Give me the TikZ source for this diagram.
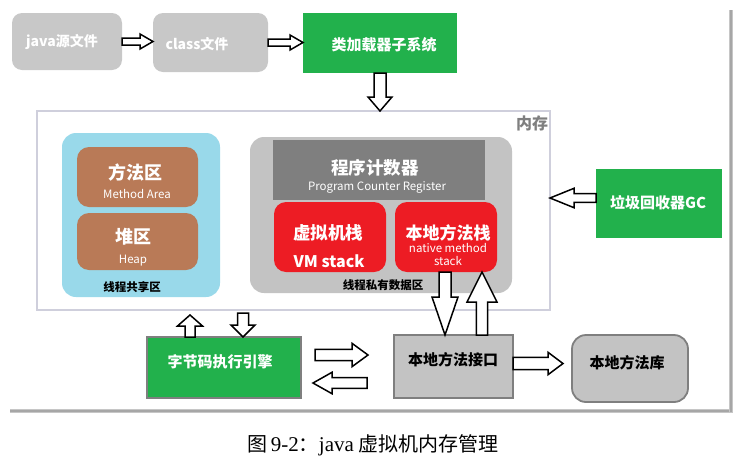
\documentclass[tikz,border=0pt]{standalone}
\usepackage{fontspec}
\setmainfont{Noto Sans CJK SC}
\newfontfamily\serifl{Liberation Serif}
\usetikzlibrary{calc}
\definecolor{lgray}{HTML}{C8C8C8}
\definecolor{mgray}{HTML}{C3C3C3}
\definecolor{dgray}{HTML}{7F7F7F}
\definecolor{jgreen}{HTML}{22B14C}
\definecolor{lblue}{HTML}{99D9EA}
\definecolor{brown}{HTML}{B97A57}
\definecolor{jred}{HTML}{ED1C24}
\definecolor{memline}{HTML}{CFCFDC}
\tikzset{
  fs/.style={font=\fontsize{#1pt}{#1pt}\selectfont},
  fsb/.style={font=\fontsize{#1pt}{#1pt}\selectfont\bfseries},
  box/.style={inner sep=0pt, outer sep=0pt},
  wtxt/.style={text=white, inner sep=0pt},
  ktxt/.style={text=black, inner sep=0pt},
  ba/.code n args={3}{\def\baSW{#1}\def\baHW{#2}\def\baHL{#3}},
  blk/.style={draw=black, fill=white, line width=1.5pt, line join=miter,
    to path={let \p1=(\tikztostart), \p2=(\tikztotarget),
      \n1={atan2(\y2-\y1,\x2-\x1)}, \n2={veclen(\x2-\x1,\y2-\y1)} in
      {[shift={(\p1)}, rotate=\n1]
       (0pt,-\baSW) -- ({\n2-\baHL},-\baSW) -- ({\n2-\baHL},-\baHW) -- (\n2,0pt)
       -- ({\n2-\baHL},\baHW) -- ({\n2-\baHL},\baSW) -- (0pt,\baSW) -- cycle}}},
}
\begin{document}
\begin{tikzpicture}[x=1pt,y=-1pt]
\useasboundingbox (0,0) rectangle (734,461);
% screenshot shadow
\fill[gray!45] (10,409) rectangle (733,413);
\fill[gray!70] (10,409.5) rectangle (733,411.5);
\fill[gray!45] (729,10) rectangle (733,413);
\fill[gray!70] (729.5,10) rectangle (731.5,411.5);

% top row
\node[box, fill=lgray, rounded corners=10pt, minimum width=110pt, minimum height=57pt] (java) at (67,41.5) {};
\node[wtxt, fsb=14] (javat) at (62,42) {java源文件};
\node[box, fill=lgray, rounded corners=10pt, minimum width=115pt, minimum height=59pt] (class) at (210.5,42.5) {};
\node[wtxt, fsb=14] (classt) at (197,44) {class文件};
\node[box, fill=jgreen, minimum width=154pt, minimum height=60pt] (loader) at (380,43) {};
\node[wtxt, fsb=15] (loadert) at (384,45) {类加载器子系统};

% memory
\node[box, draw=memline, line width=1.2pt, minimum width=513pt, minimum height=199pt] (mem) at (293.5,210.5) {};
\node[text=dgray, fsb=16, inner sep=0pt] (memt) at (532,123) {内存};

% shared area
\node[box, fill=lblue, rounded corners=14pt, minimum width=158pt, minimum height=164pt] (shared) at (141,215) {};
\node[box, fill=brown, rounded corners=12pt, minimum width=121pt, minimum height=60pt] (method) at (137.5,177) {};
\node[wtxt, fsb=18] (methodt) at (135,173) {方法区};
\node[wtxt, fs=11.5] (methodt2) at (137,194) {Method Area};
\node[box, fill=brown, rounded corners=12pt, minimum width=121pt, minimum height=57pt] (heap) at (137.5,241.5) {};
\node[wtxt, fsb=18] (heapt) at (133,237) {堆区};
\node[wtxt, fs=11.5] (heapt2) at (133,261) {Heap};
\node[ktxt, fsb=11.5] (sharedt) at (132,287) {线程共享区};

% private area
\node[box, fill=mgray, rounded corners=14pt, minimum width=262pt, minimum height=156pt] (priv) at (381,215) {};
\node[box, fill=dgray, minimum width=212pt, minimum height=60pt] (pc) at (379,170) {};
\node[wtxt, fsb=17.5] (pct) at (375,168) {程序计数器};
\node[wtxt, fs=11.5] (pct2) at (377,187) {Program Counter Register};
\node[box, fill=jred, rounded corners=12pt, minimum width=112pt, minimum height=70pt] (vm) at (330,237) {};
\node[wtxt, fsb=17.5] (vmt) at (328,233) {虚拟机栈};
\node[wtxt, fsb=16] (vmt2) at (329,261) {VM stack};
\node[box, fill=jred, rounded corners=12pt, minimum width=102pt, minimum height=70pt] (ns) at (446,237) {};
\node[wtxt, fsb=17] (nst) at (448,233) {本地方法栈};
\node[wtxt, fs=11.5] (nst2) at (448,248) {native method};
\node[wtxt, fs=11.5] (nst3) at (448,261) {stack};
\node[ktxt, fsb=11.5] (privt) at (383,285) {线程私有数据区};

% GC
\node[box, fill=jgreen, minimum width=126pt, minimum height=69pt] (gc) at (659,203.5) {};
\node[wtxt, fsb=15] (gct) at (658,203) {垃圾回收器GC};

% bottom row
\node[box, fill=jgreen, draw=dgray, line width=1.5pt, minimum width=154pt, minimum height=61pt] (bc) at (224,367.5) {};
\node[wtxt, fsb=15] (bct) at (220,362) {字节码执行引擎};
\node[box, fill=mgray, draw=dgray, line width=1.8pt, minimum width=119pt, minimum height=63pt] (iface) at (453.5,366.5) {};
\node[ktxt, fsb=15] (ifacet) at (453,360) {本地方法接口};
\node[box, fill=mgray, draw=dgray, line width=1.8pt, rounded corners=14pt, minimum width=116pt, minimum height=67pt] (lib) at (630,368.5) {};
\node[ktxt, fsb=15] (libt) at (627,363) {本地方法库};

% caption
\node[ktxt, font=\fontsize{20pt}{24pt}\selectfont] (cap) at (373,445) {图\,{\serifl\fontsize{21pt}{24pt}\selectfont 9-2}：{\serifl\fontsize{21pt}{24pt}\selectfont java} 虚拟机内存管理};

% hollow block arrows
\draw[blk, ba={3.5pt}{7.5pt}{13pt}] (java.east) to (java.east -| class.west);
\draw[blk, ba={3.5pt}{7.5pt}{13pt}] (class.east) to (class.east -| loader.west);
\draw[blk, ba={6pt}{12pt}{14pt}] (loader.south) to (loader.south |- mem.north);
\coordinate (gcs) at ($(gc.west)+(0,-5.5)$);
\draw[blk, ba={4.3pt}{9.7pt}{24pt}] (gcs) to (gcs -| mem.east);
\coordinate (nd1) at ($(ns.south)+(-1,0)$);
\draw[blk, ba={6pt}{13pt}{38pt}] (nd1) to (nd1 |- iface.north);
\coordinate (nu1) at ($(iface.north)+(28.5,0)$);
\draw[blk, ba={5.7pt}{15pt}{30pt}] (nu1) to (nu1 |- ns.south);
\coordinate (bu1) at ($(bc.north)+(-34,0)$);
\coordinate (bu2) at (190,315);
\draw[blk, ba={5pt}{12.5pt}{11pt}] (bu1) to (bu2);
\coordinate (bd1) at (243,313);
\draw[blk, ba={5.5pt}{12pt}{12pt}] (bd1) to (bd1 |- bc.north);
\coordinate (r1) at (315,355);
\coordinate (r2) at (368,355);
\draw[blk, ba={5.7pt}{11.7pt}{16pt}] (r1) to (r2);
\coordinate (l1) at (367,383);
\coordinate (l2) at (313,383);
\draw[blk, ba={5.3pt}{10.7pt}{19pt}] (l1) to (l2);
\coordinate (ie) at ($(iface.east)+(0,-3)$);
\draw[blk, ba={6.2pt}{11.2pt}{15pt}] (ie) to ($(ie)+(50,0)$);
\end{tikzpicture}
\end{document}
